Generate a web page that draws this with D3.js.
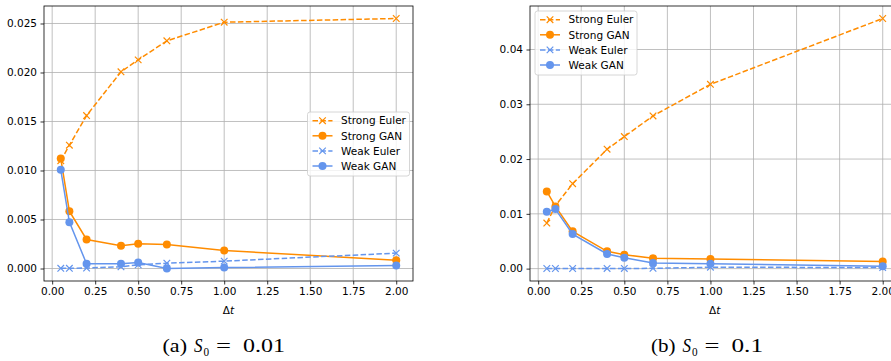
<!DOCTYPE html>
<html>
<head>
<meta charset="utf-8">
<script src="https://cdn.jsdelivr.net/npm/d3@7/dist/d3.min.js"></script>
<style>
  html, body { margin: 0; padding: 0; background: #fff; overflow: hidden; }
  svg { display: block; }
  text { font-family: "DejaVu Sans", sans-serif; fill: #000; }
  text.cap { font-family: "Liberation Serif", "DejaVu Serif", serif; }
</style>
</head>
<body>
<div id="chart"></div>
<script>
// Time steps shared by both panels
const dt = [0.05, 0.1, 0.2, 0.4, 0.5, 2 / 3, 1.0, 2.0];

// Panel (a): S0 = 0.01
const strongEulerA = [0.0110, 0.01258, 0.01561, 0.02007, 0.02129, 0.02323, 0.02513, 0.02551];
const strongGanA   = [0.01122, 0.00585, 0.00296, 0.00231, 0.00252, 0.00245, 0.00184, 0.00085];
const weakEulerA   = [0.00002, 0.00002, 0.00005, 0.00017, 0.00038, 0.00054, 0.00075, 0.00157];
const weakGanA     = [0.01007, 0.00473, 0.00048, 0.00048, 0.00061, 0.00000, 0.00010, 0.00030];

// Panel (b): S0 = 0.1
const strongEulerB = [0.00832, 0.01148, 0.0155, 0.0218, 0.0241, 0.02787, 0.03364, 0.04566];
const strongGanB   = [0.01408, 0.01135, 0.0068, 0.00316, 0.00255, 0.00188, 0.00176, 0.00128];
const weakEulerB   = [0.00002, 0.00002, 0.00002, 0.00003, 0.00003, 0.00005, 0.00025, 0.00020];
const weakGanB     = [0.01038, 0.01087, 0.0063, 0.00267, 0.0020, 0.00103, 0.0009, 0.00043];

const xTicks  = [0, 0.25, 0.5, 0.75, 1.0, 1.25, 1.5, 1.75, 2.0];
const yTicksA = [0, 0.005, 0.010, 0.015, 0.020, 0.025];
const yTicksB = [0, 0.01, 0.02, 0.03, 0.04];

const seriesNames = ["Strong Euler", "Strong GAN", "Weak Euler", "Weak GAN"];
const captions = [["(a)", "0.01"], ["(b)", "0.1"]];

const ORANGE = "#ff8c00", BLUE = "#6495ed";
const styles = [
  { color: ORANGE, dash: "5.5,2.4", marker: "x" },
  { color: ORANGE, dash: null, marker: "o" },
  { color: BLUE, dash: "5.5,2.4", marker: "x" },
  { color: BLUE, dash: null, marker: "o" }
];

const W = 891, H = 361;
const svg = d3.select("#chart").append("svg").attr("width", W).attr("height", H);

// Pad an extent by 5% on each side, as the plotting defaults do
function padded(vals) {
  const [a, b] = d3.extent(vals);
  const m = (b - a) * 0.05;
  return [a - m, b + m];
}

function panel(opts) {
  const { left, right, top, bottom, series, yTicks, yFmt, legendPos, caption } = opts;
  const g = svg.append("g");
  const x = d3.scaleLinear().domain(padded(dt)).range([left, right]);
  const y = d3.scaleLinear().domain(padded(series.flat())).range([bottom, top]);

  // clip to plot area
  const clipId = "clip" + Math.round(left);
  svg.append("clipPath").attr("id", clipId)
    .append("rect").attr("x", left).attr("y", top).attr("width", right - left).attr("height", bottom - top);

  // grid
  const grid = g.append("g").attr("stroke", "#b0b0b0").attr("stroke-width", 0.8);
  xTicks.forEach(t => grid.append("line")
    .attr("x1", x(t)).attr("x2", x(t)).attr("y1", top).attr("y2", bottom));
  yTicks.forEach(t => grid.append("line")
    .attr("x1", left).attr("x2", right).attr("y1", y(t)).attr("y2", y(t)));

  // series
  const plot = g.append("g").attr("clip-path", `url(#${clipId})`);
  const line = d3.line().x((d, i) => x(dt[i])).y(d => y(d));
  series.forEach((vals, si) => {
    const st = styles[si];
    plot.append("path").datum(vals)
      .attr("d", line).attr("fill", "none")
      .attr("stroke", st.color).attr("stroke-width", 1.5)
      .attr("stroke-dasharray", st.dash);
    vals.forEach((v, i) => drawMarker(plot, st, x(dt[i]), y(v)));
  });

  // frame
  g.append("rect").attr("x", left).attr("y", top).attr("width", right - left).attr("height", bottom - top)
    .attr("fill", "none").attr("stroke", "#000").attr("stroke-width", 0.8);

  // axes
  const xAxis = d3.axisBottom(x).tickValues(xTicks).tickFormat(d3.format(".2f")).tickSize(3.5).tickPadding(3.5);
  const gx = g.append("g").attr("transform", `translate(0,${bottom})`).call(xAxis);
  const yAxis = d3.axisLeft(y).tickValues(yTicks).tickFormat(d3.format(yFmt)).tickSize(3.5).tickPadding(3.5);
  const gy = g.append("g").attr("transform", `translate(${left},0)`).call(yAxis);
  [gx, gy].forEach(a => {
    a.select(".domain").remove();
    a.selectAll(".tick line").attr("stroke", "#000").attr("stroke-width", 0.8);
    a.selectAll("text").style("font-size", "10.5px").style("font-family", "DejaVu Sans");
  });

  // x label
  const xl = g.append("text").attr("x", (left + right) / 2).attr("y", 314)
    .attr("text-anchor", "middle").style("font-size", "10.5px");
  xl.append("tspan").text("Δ");
  xl.append("tspan").attr("font-style", "italic").text("t");

  // legend
  const lg = g.append("g").attr("transform", `translate(${legendPos[0]},${legendPos[1]})`);
  lg.append("rect").attr("width", 102).attr("height", 64).attr("rx", 2.5)
    .attr("fill", "#fff").attr("fill-opacity", 0.8).attr("stroke", "#cccccc").attr("stroke-width", 0.8);
  seriesNames.forEach((name, i) => {
    const st = styles[i];
    const yy = 8.7 + i * 15.1;
    lg.append("line").attr("x1", 5).attr("x2", 25).attr("y1", yy).attr("y2", yy)
      .attr("stroke", st.color).attr("stroke-width", 1.5).attr("stroke-dasharray", st.dash);
    drawMarker(lg, st, 15, yy);
    lg.append("text").attr("x", 33.5).attr("y", yy).attr("dy", "0.36em")
      .style("font-size", "10.5px").text(name);
  });

  // caption: "(x) S₀ = value", set piece by piece
  const cg = g.append("g").attr("transform", `translate(${caption.x},352)`);
  const piece = (dx, dy, txt, len, size, italic) => cg.append("text").attr("class", "cap")
    .attr("x", dx).attr("y", dy).style("font-size", size + "px")
    .attr("font-style", italic ? "italic" : null)
    .attr("textLength", len).attr("lengthAdjust", "spacingAndGlyphs").text(txt);
  piece(0, 0, caption.text[0], 24.5, 18, false);
  piece(31.5, 0, "S", 8.5, 18, true);
  piece(41, 3.5, "0", 5.6, 13, false);
  piece(53.5, 0, "=", 15, 18, false);
  piece(80.5, 0, caption.text[1], caption.text[1].length * 10.5, 18, false);
}

function drawMarker(sel, st, cx, cy) {
  if (st.marker === "o") {
    sel.append("circle").attr("cx", cx).attr("cy", cy).attr("r", 4).attr("fill", st.color);
  } else {
    const s = 3.3;
    sel.append("path")
      .attr("d", `M${cx - s},${cy - s}L${cx + s},${cy + s}M${cx - s},${cy + s}L${cx + s},${cy - s}`)
      .attr("stroke", st.color).attr("stroke-width", 1.2).attr("fill", "none");
  }
}

panel({
  left: 44, right: 413, top: 6, bottom: 281,
  series: [strongEulerA, strongGanA, weakEulerA, weakGanA],
  yTicks: yTicksA, yFmt: ".3f", legendPos: [307.5, 112],
  caption: { x: 162.5, text: captions[0] }
});
panel({
  left: 530, right: 899.5, top: 6, bottom: 281,
  series: [strongEulerB, strongGanB, weakEulerB, weakGanB],
  yTicks: yTicksB, yFmt: ".2f", legendPos: [535, 11],
  caption: { x: 651, text: captions[1] }
});
</script>
</body>
</html>
